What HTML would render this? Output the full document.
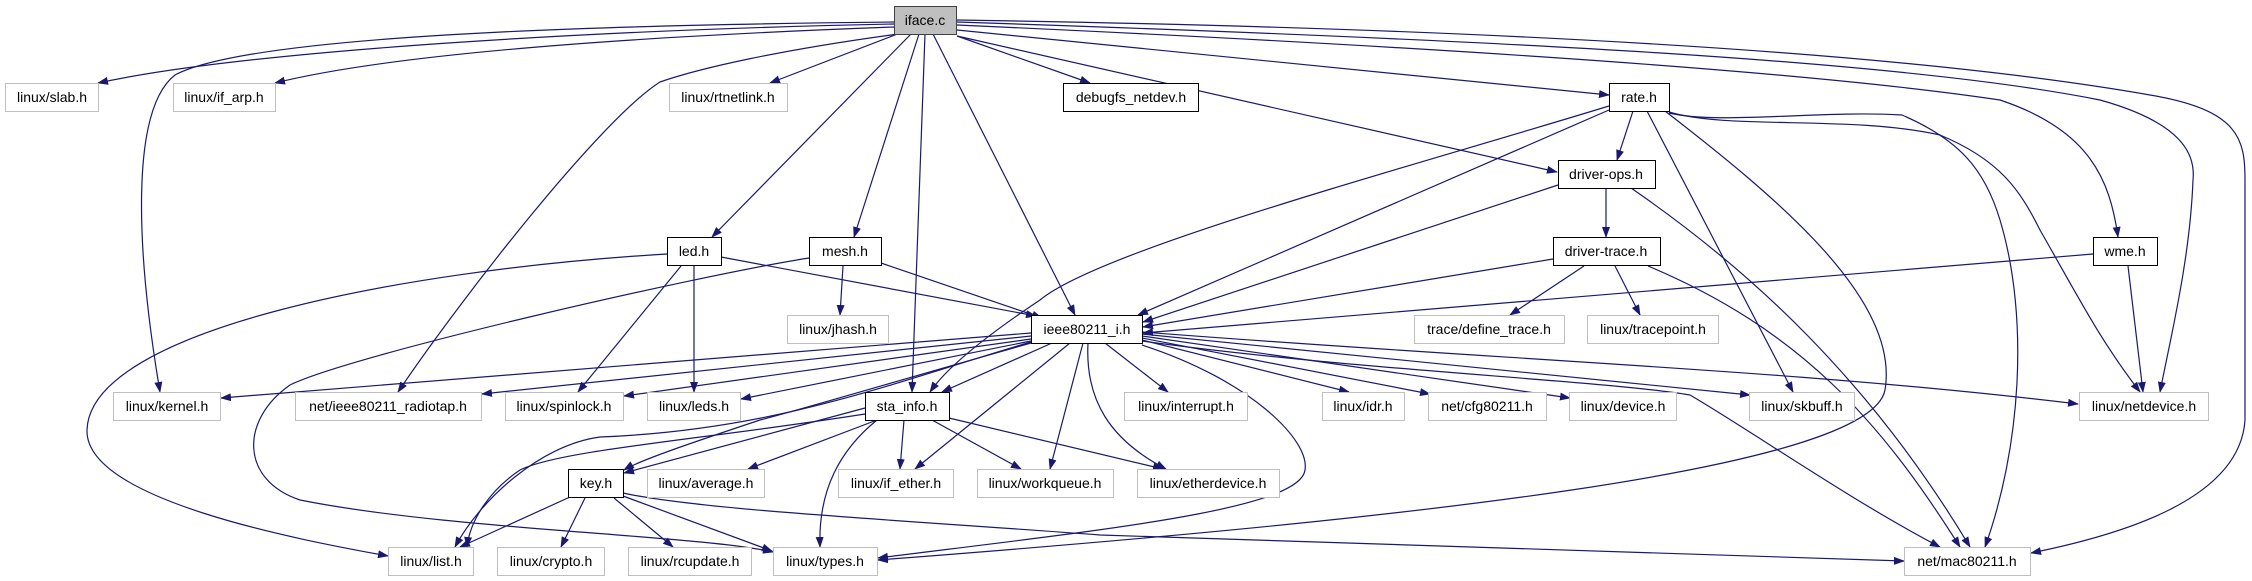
<!DOCTYPE html>
<html><head><meta charset="utf-8"><style>
html,body{margin:0;padding:0;background:#fff;}
svg{display:block;}
text{font-family:"Liberation Sans",sans-serif;font-size:14px;fill:#000;}
</style></head><body>
<svg width="2252" height="581" viewBox="0 0 2252 581" xmlns="http://www.w3.org/2000/svg">
<defs>
<marker id="a" markerUnits="userSpaceOnUse" markerWidth="11" markerHeight="8" refX="10" refY="4" orient="auto">
<path d="M0,0 L11,4 L0,8 z" fill="#191970"/>
</marker>
</defs>
<g fill="none" stroke="#191970" stroke-width="1.2" marker-end="url(#a)">
<path d="M894,24 C600,30 250,50 98,83"/>
<path d="M894,27 C650,36 400,52 275,83"/>
<path d="M894,22 C600,25 250,35 175,75 C130,110 136,250 160,392"/>
<path d="M898,34 C780,50 700,68 660,82 C600,120 460,300 398,392"/>
<path d="M900,33 L770,83"/>
<path d="M911,34 L712,237"/>
<path d="M919,34 L854,237"/>
<path d="M925,34 L912,392"/>
<path d="M933,34 L1075,315"/>
<path d="M957,36 L1090,83"/>
<path d="M957,36 L1557,172"/>
<path d="M957,30 L1609,95"/>
<path d="M957,25 C1400,45 1800,70 2000,100 C2090,130 2110,180 2118,237"/>
<path d="M957,22 C1500,40 1900,60 2100,100 C2190,125 2195,160 2193,180 C2190,260 2170,340 2160,392"/>
<path d="M957,20 C1600,30 1950,60 2150,95 C2240,110 2245,140 2245,180 L2245,420 C2240,500 2120,535 2031,553"/>
<path d="M1633,111 L1617,160"/>
<path d="M1609,106 C1400,170 1100,250 1040,300 C980,340 945,370 930,392"/>
<path d="M1609,110 L1138,315"/>
<path d="M1647,111 L1793,392"/>
<path d="M1665,111 C1780,200 1900,300 1885,390 C1870,470 1400,520 878,560"/>
<path d="M1669,113 C1720,125 1820,110 1902,115 C1960,140 1985,170 2000,220 C2030,320 2020,450 1985,547"/>
<path d="M1669,112 C1730,130 1850,115 1940,135 C2000,160 2020,190 2040,230 C2080,300 2100,340 2140,392"/>
<path d="M1606,188 L1606,237"/>
<path d="M1558,185 L1143,322"/>
<path d="M1631,188 C1750,270 1870,380 1970,547"/>
<path d="M1553,259 L1143,327"/>
<path d="M1584,266 L1510,315"/>
<path d="M1615,266 L1640,315"/>
<path d="M1648,266 C1800,330 1880,420 1960,547"/>
<path d="M2093,254 L1143,333"/>
<path d="M2128,266 L2143,392"/>
<path d="M721,257 L1036,316"/>
<path d="M667,254 C400,270 90,330 87,430 C85,500 300,540 388,556"/>
<path d="M681,266 L578,392"/>
<path d="M694,266 L694,392"/>
<path d="M881,263 L1042,318"/>
<path d="M843,266 L840,315"/>
<path d="M809,258 C700,275 350,355 290,385 C240,420 240,480 300,500 C450,530 700,535 773,552"/>
<path d="M1031,333 L221,398"/>
<path d="M1031,336 L482,394"/>
<path d="M1031,339 L624,396"/>
<path d="M1031,341 L741,399"/>
<path d="M1052,343 L942,392"/>
<path d="M1031,343 C900,380 800,410 760,420 C700,440 640,460 624,470"/>
<path d="M1031,342 C900,380 780,430 600,437 C540,445 480,500 455,547"/>
<path d="M1105,343 L1168,392"/>
<path d="M1142,340 L1349,392"/>
<path d="M1142,338 L1430,394"/>
<path d="M1142,336 L1570,398"/>
<path d="M1142,334 L1750,395"/>
<path d="M1142,332 C1500,360 1800,370 2078,404"/>
<path d="M1142,341 C1350,370 1600,380 1690,395 C1750,430 1850,500 1940,547"/>
<path d="M1070,343 L915,469"/>
<path d="M1083,343 L1050,469"/>
<path d="M1088,343 C1085,400 1110,440 1166,469"/>
<path d="M1142,345 C1250,380 1310,440 1305,470 C1300,510 1100,530 878,558"/>
<path d="M865,408 L624,473"/>
<path d="M865,414 C700,440 560,450 520,470 C490,490 470,520 467,547"/>
<path d="M877,420 L748,469"/>
<path d="M904,420 L900,469"/>
<path d="M932,420 L1021,469"/>
<path d="M949,418 L1163,469"/>
<path d="M877,420 C840,450 818,490 820,547"/>
<path d="M570,497 L460,547"/>
<path d="M585,498 L561,547"/>
<path d="M614,498 L673,547"/>
<path d="M623,496 L772,551"/>
<path d="M623,493 C700,510 900,520 1100,535 C1500,550 1800,560 1904,561"/>
</g>
<g stroke-width="1">
<rect x="894.5" y="6.5" width="62" height="28" fill="#bfbfbf" stroke="#404040"/>
<rect x="5.5" y="83.5" width="93" height="28" fill="#fff" stroke="#bfbfbf"/>
<rect x="173.5" y="83.5" width="102" height="28" fill="#fff" stroke="#bfbfbf"/>
<rect x="669.5" y="83.5" width="118" height="28" fill="#fff" stroke="#bfbfbf"/>
<rect x="1063.5" y="83.5" width="135" height="28" fill="#fff" stroke="#000"/>
<rect x="1609.5" y="83.5" width="60" height="28" fill="#fff" stroke="#000"/>
<rect x="1558.5" y="160.5" width="97" height="28" fill="#fff" stroke="#000"/>
<rect x="667.5" y="237.5" width="54" height="28" fill="#fff" stroke="#000"/>
<rect x="809.5" y="237.5" width="72" height="28" fill="#fff" stroke="#000"/>
<rect x="1553.5" y="237.5" width="107" height="28" fill="#fff" stroke="#000"/>
<rect x="2093.5" y="237.5" width="64" height="28" fill="#fff" stroke="#000"/>
<rect x="787.5" y="315.5" width="101" height="28" fill="#fff" stroke="#bfbfbf"/>
<rect x="1031.5" y="315.5" width="111" height="28" fill="#fff" stroke="#000"/>
<rect x="1414.5" y="315.5" width="150" height="28" fill="#fff" stroke="#bfbfbf"/>
<rect x="1587.5" y="315.5" width="131" height="28" fill="#fff" stroke="#bfbfbf"/>
<rect x="113.5" y="392.5" width="107" height="28" fill="#fff" stroke="#bfbfbf"/>
<rect x="295.5" y="392.5" width="186" height="28" fill="#fff" stroke="#bfbfbf"/>
<rect x="505.5" y="392.5" width="118" height="28" fill="#fff" stroke="#bfbfbf"/>
<rect x="647.5" y="392.5" width="93" height="28" fill="#fff" stroke="#bfbfbf"/>
<rect x="865.5" y="392.5" width="84" height="28" fill="#fff" stroke="#000"/>
<rect x="1124.5" y="392.5" width="123" height="28" fill="#fff" stroke="#bfbfbf"/>
<rect x="1322.5" y="392.5" width="82" height="28" fill="#fff" stroke="#bfbfbf"/>
<rect x="1428.5" y="392.5" width="118" height="28" fill="#fff" stroke="#bfbfbf"/>
<rect x="1569.5" y="392.5" width="107" height="28" fill="#fff" stroke="#bfbfbf"/>
<rect x="1749.5" y="392.5" width="105" height="28" fill="#fff" stroke="#bfbfbf"/>
<rect x="2079.5" y="392.5" width="129" height="28" fill="#fff" stroke="#bfbfbf"/>
<rect x="568.5" y="469.5" width="55" height="28" fill="#fff" stroke="#000"/>
<rect x="647.5" y="469.5" width="117" height="28" fill="#fff" stroke="#bfbfbf"/>
<rect x="838.5" y="469.5" width="115" height="28" fill="#fff" stroke="#bfbfbf"/>
<rect x="977.5" y="469.5" width="136" height="28" fill="#fff" stroke="#bfbfbf"/>
<rect x="1137.5" y="469.5" width="142" height="28" fill="#fff" stroke="#bfbfbf"/>
<rect x="388.5" y="547.5" width="85" height="28" fill="#fff" stroke="#bfbfbf"/>
<rect x="497.5" y="547.5" width="107" height="28" fill="#fff" stroke="#bfbfbf"/>
<rect x="628.5" y="547.5" width="123" height="28" fill="#fff" stroke="#bfbfbf"/>
<rect x="773.5" y="547.5" width="104" height="28" fill="#fff" stroke="#bfbfbf"/>
<rect x="1904.5" y="547.5" width="126" height="28" fill="#fff" stroke="#bfbfbf"/>
</g>
<g text-anchor="middle">
<text x="925" y="25">iface.c</text>
<text x="52" y="102">linux/slab.h</text>
<text x="224" y="102">linux/if_arp.h</text>
<text x="728" y="102">linux/rtnetlink.h</text>
<text x="1131" y="102">debugfs_netdev.h</text>
<text x="1639" y="102">rate.h</text>
<text x="1606" y="179">driver-ops.h</text>
<text x="694" y="256">led.h</text>
<text x="845" y="256">mesh.h</text>
<text x="1606" y="256">driver-trace.h</text>
<text x="2125" y="256">wme.h</text>
<text x="838" y="334">linux/jhash.h</text>
<text x="1087" y="334">ieee80211_i.h</text>
<text x="1489" y="334">trace/define_trace.h</text>
<text x="1653" y="334">linux/tracepoint.h</text>
<text x="167" y="411">linux/kernel.h</text>
<text x="388" y="411">net/ieee80211_radiotap.h</text>
<text x="564" y="411">linux/spinlock.h</text>
<text x="694" y="411">linux/leds.h</text>
<text x="907" y="411">sta_info.h</text>
<text x="1186" y="411">linux/interrupt.h</text>
<text x="1363" y="411">linux/idr.h</text>
<text x="1487" y="411">net/cfg80211.h</text>
<text x="1623" y="411">linux/device.h</text>
<text x="1802" y="411">linux/skbuff.h</text>
<text x="2144" y="411">linux/netdevice.h</text>
<text x="596" y="488">key.h</text>
<text x="706" y="488">linux/average.h</text>
<text x="896" y="488">linux/if_ether.h</text>
<text x="1045" y="488">linux/workqueue.h</text>
<text x="1208" y="488">linux/etherdevice.h</text>
<text x="431" y="566">linux/list.h</text>
<text x="551" y="566">linux/crypto.h</text>
<text x="690" y="566">linux/rcupdate.h</text>
<text x="825" y="566">linux/types.h</text>
<text x="1967" y="566">net/mac80211.h</text>
</g>
</svg>
</body></html>
